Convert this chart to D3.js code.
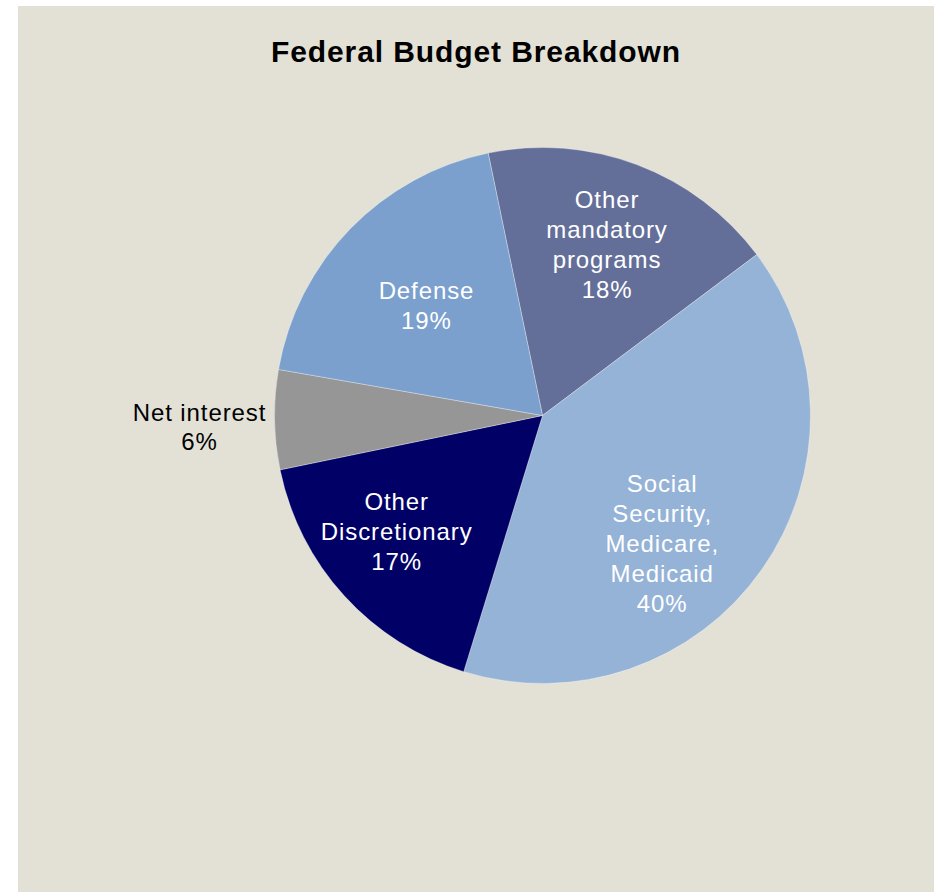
<!DOCTYPE html>
<html>
<head>
<meta charset="utf-8">
<script src="https://cdn.jsdelivr.net/npm/d3@7"></script>
<style>
  html, body { margin: 0; padding: 0; background: #ffffff; }
  svg { display: block; }
</style>
</head>
<body>
<svg id="chart" width="938" height="892"></svg>
<script>
// Federal budget shares, in percent
const categories = [
  "Other mandatory programs",
  "Social Security, Medicare, Medicaid",
  "Other Discretionary",
  "Net interest",
  "Defense"
];
const values = [18, 40, 17, 6, 19];
// Wrapped label lines for each slice (the percentage is appended below)
const labelLines = [
  ["Other", "mandatory", "programs"],
  ["Social", "Security,", "Medicare,", "Medicaid"],
  ["Other", "Discretionary"],
  ["Net interest"],
  ["Defense"]
];
const colors = ["#646F99", "#95B3D7", "#000066", "#969696", "#7BA0CD"];
const title = "Federal Budget Breakdown";

const W = 938, H = 892;
const svg = d3.select("#chart");
const FONT = "'Liberation Sans', Arial, Helvetica, sans-serif";

// Panel background
svg.append("rect")
  .attr("x", 18).attr("y", 6)
  .attr("width", 916).attr("height", 886)
  .attr("fill", "#E3E1D6");

// Title
svg.append("text")
  .attr("x", 476).attr("y", 61.5)
  .attr("text-anchor", "middle")
  .attr("font-family", FONT)
  .attr("font-weight", "bold")
  .attr("font-size", 30)
  .attr("letter-spacing", "0.9px")
  .attr("fill", "#000")
  .text(title);

// Pie geometry
const cx = 542.5, cy = 415.5, R = 268;
const startDeg = -11.7;
const toRad = d => d * Math.PI / 180;

const data = categories.map((c, i) => ({
  name: c, value: values[i], lines: labelLines[i], color: colors[i]
}));

const pie = d3.pie()
  .value(d => d.value)
  .sort(null)
  .startAngle(toRad(startDeg))
  .endAngle(toRad(startDeg + 360));

const arcs = pie(data);
const arc = d3.arc().innerRadius(0).outerRadius(R);

const g = svg.append("g").attr("transform", `translate(${cx},${cy})`);

g.selectAll("path.slice")
  .data(arcs)
  .join("path")
  .attr("class", "slice")
  .attr("d", arc)
  .attr("fill", d => d.data.color)
  .attr("stroke", "rgba(255,255,255,0.45)")
  .attr("stroke-width", 0.7);

// Label placement: inside slices on a ring, small slice outside the pie
const insideArc = d3.arc().innerRadius(R * 0.66).outerRadius(R * 0.66);
const outsideArc = d3.arc().innerRadius(R * 1.28).outerRadius(R * 1.28);
// Fine adjustments so each text block sits in the open part of its slice
const nudge = {
  "Other mandatory programs": [2, -6],
  "Social Security, Medicare, Medicaid": [-25, 26],
  "Other Discretionary": [-15, -3],
  "Net interest": [0, 6],
  "Defense": [11, 13]
};

const fontSize = 24, lineH = 30, capH = 17.2;

arcs.forEach(a => {
  const d = a.data;
  const outside = d.value < 10;
  const [px, py] = (outside ? outsideArc : insideArc).centroid(a);
  const [nx, ny] = nudge[d.name] || [0, 0];
  const x = px + nx, mid = py + ny;
  const lines = d.lines.concat([d.value + "%"]);
  const n = lines.length;
  const firstBase = mid + capH / 2 - lineH * (n - 1) / 2;
  const t = g.append("text")
    .attr("text-anchor", "middle")
    .attr("font-family", FONT)
    .attr("font-size", fontSize)
    .attr("letter-spacing", "0.9px")
    .attr("fill", outside ? "#000" : "#fff");
  lines.forEach((ln, i) => {
    t.append("tspan")
      .attr("x", x)
      .attr("y", firstBase + i * lineH)
      .text(ln);
  });
});
</script>
</body>
</html>
